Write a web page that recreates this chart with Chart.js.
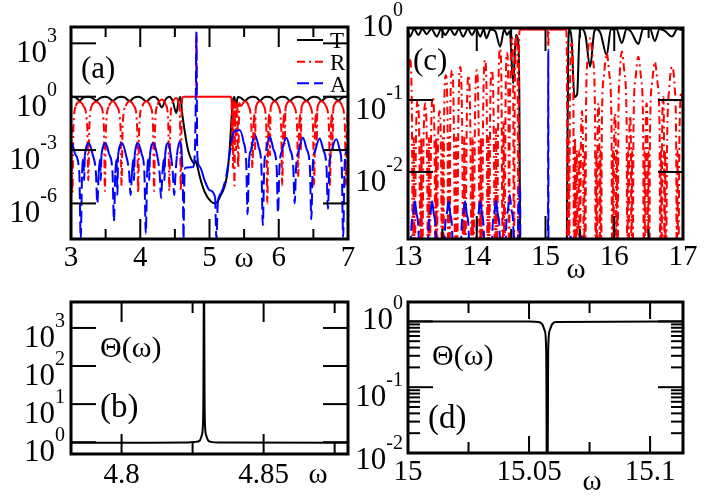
<!DOCTYPE html>
<html><head><meta charset="utf-8">
<script src="https://cdn.jsdelivr.net/npm/chart.js@4.4.0/dist/chart.umd.min.js"></script>
<style>
html,body{margin:0;padding:0;background:#fff;}
#wrap{position:relative;width:705px;height:500px;overflow:hidden;background:#fff;}
#wrap canvas{position:absolute;left:0;top:0;}
#fp{position:absolute;left:-2000px;top:0;font-family:"Liberation Serif";font-size:28px;}
</style></head><body>
<div id="fp">10 (a) (b) T R A &#920;(&#969;) 4.85</div>
<div id="wrap">
<canvas id="ca" width="705" height="500"></canvas>
<canvas id="cc" width="705" height="500"></canvas>
<canvas id="cb" width="705" height="500"></canvas>
<canvas id="cd" width="705" height="500"></canvas>
</div>
<script>
// ---------- panel (a): omega 3..7 ----------
const seriesNames = ['T', 'R', 'A'];
const aTX = [3.00,3.02,3.07,3.125,3.18, 3.25,3.30,3.365,3.43, 3.49,3.54,3.606,3.67, 3.73,3.78,3.847,3.91, 3.97,4.02,4.087,4.15, 4.20,4.25,4.31,4.37,
  4.42,4.47,4.52,4.555,4.58, 4.605,4.64,4.69,4.74,4.78, 4.80,4.82,4.86,4.93,5.02, 5.08,5.15,5.25,5.29,5.32, 5.34,
  5.36,5.38,5.41,5.45, 5.51,5.57,5.62,5.68, 5.73,5.78,5.83,5.89, 5.94,6.00,6.05,6.11, 6.16,6.22,6.28,6.34, 6.40,6.46,6.51,6.57, 6.62,6.68,6.74,6.80, 6.86,6.92,6.97,7.00];
const aT = [0.95,1.0,0.88,0.62,0.88, 1.0,0.88,0.62,0.88, 1.0,0.88,0.6,0.88, 1.0,0.88,0.58,0.88, 1.0,0.86,0.55,0.86, 1.0,0.75,0.25,0.75,
  1.0,0.55,0.12,0.6,0.95, 0.12,1.3e-2,1e-3,2.8e-4,1.8e-4, 2.5e-4,1.5e-4,3.2e-5,4.5e-6,1.3e-6, 1e-6,2.3e-6,3.2e-5,1e-3,7.4e-2, 0.65,
  0.95,0.3,0.95,0.88, 0.6,0.88,1.0,0.88, 0.6,0.88,1.0,0.88, 0.6,0.88,1.0,0.88, 0.6,0.88,1.0,0.88, 0.6,0.88,1.0,0.88, 0.6,0.88,1.0,0.88, 0.6,0.88,1.0,0.95];

const aRX = [3.00,3.02,3.035,3.07,3.125,3.18,3.235,
  3.25,3.265,3.30,3.365,3.43,3.475,
  3.49,3.505,3.55,3.606,3.66,3.715,
  3.73,3.745,3.79,3.847,3.91,3.955,
  3.97,3.985,4.03,4.087,4.145,4.185,
  4.20,4.215,4.25,4.31,4.37,4.405,
  4.42,4.435,4.47,4.52,4.555,4.575,
  4.585,4.60,4.615,4.63,4.80,4.808,4.812,4.816,5.31,
  5.32,5.325,5.332,5.34,5.35,5.36,5.372,5.385,5.40,5.415,5.43,5.45,
  5.51,5.565,5.605,5.62,5.635,5.65,5.658,5.666,5.675,
  5.73,5.785,5.82,5.835,5.85,5.865,5.873,5.881,5.89,
  5.94,5.995,6.035,6.05,6.065,6.08,6.088,6.096,6.105,
  6.16,6.22,6.265,6.28,6.295,6.31,6.318,6.326,6.335,
  6.40,6.455,6.495,6.51,6.525,6.54,6.548,6.556,6.565,
  6.62,6.68,6.725,6.74,6.755,6.77,6.778,6.786,6.795,
  6.86,6.915,6.955,6.97,6.985,7.00];
const aR = [0.2,4e-6,0.02,0.3,0.52,0.3,0.02,
  2e-5,0.02,0.3,0.52,0.3,0.02,
  5e-6,0.02,0.3,0.55,0.3,0.02,
  1e-5,0.02,0.3,0.55,0.3,0.02,
  4e-6,0.02,0.3,0.55,0.3,0.02,
  5e-6,0.03,0.35,0.7,0.35,0.03,
  5e-6,0.05,0.5,0.85,0.4,0.03,
  5e-6,0.4,0.95,1.0,1.0,1.0,3000,1.0,1.0,
  0.5,1e-3,0.7,1e-4,0.6,1e-5,0.6,1e-3,0.55,1e-4,0.45,0.3,
  0.55,0.3,0.02,1e-4,0.02,0.1,1e-3,0.15,0.3,
  0.55,0.3,0.02,1e-6,0.02,0.1,5e-4,0.15,0.3,
  0.55,0.3,0.02,1e-5,0.02,0.1,2e-3,0.15,0.3,
  0.55,0.3,0.02,3e-5,0.02,0.1,1e-3,0.15,0.3,
  0.55,0.3,0.02,1e-5,0.02,0.1,2e-3,0.15,0.3,
  0.55,0.3,0.02,1e-5,0.02,0.1,1e-3,0.15,0.3,
  0.55,0.3,0.02,1e-5,0.02,0.15];

const aAX = [3.00,3.01,3.06,3.12,3.14,3.16,3.18,3.19,3.20,
  3.26,3.31,3.36,3.38,3.40,3.42,3.43,3.44,
  3.50,3.55,3.60,3.62,3.64,3.66,3.67,3.68,
  3.74,3.79,3.84,3.86,3.88,3.90,3.91,3.92,
  3.97,4.02,4.06,4.08,4.10,4.12,4.13,4.14,
  4.19,4.24,4.28,4.30,4.32,4.34,4.35,4.36,
  4.40,4.44,4.47,4.49,4.51,4.53,
  4.57,4.60,4.615,4.625,4.635,4.645,4.76,4.79,4.805,4.81,4.815,4.825,
  4.86,4.93,5.00,5.08,5.10,5.12,5.17,5.25,5.29,5.34,5.38,
  5.44,5.49,5.53,5.55,5.57,5.60,
  5.655,5.71,5.75,5.77,5.79,5.82,
  5.87,5.92,5.97,5.99,6.01,6.05,
  6.11,6.16,6.21,6.23,6.25,6.29,
  6.35,6.40,6.45,6.47,6.49,6.53,
  6.59,6.64,6.69,6.71,6.73,6.77,
  6.83,6.88,6.91,6.93,6.95,6.98,7.00];
const aA = [2e-3,2.4e-3,6e-4,5e-5,1e-8,5e-5,3e-4,2e-5,5e-4,
  2.4e-3,6e-4,5e-5,1e-6,5e-5,3e-4,2e-5,5e-4,
  2.4e-3,6e-4,5e-5,1e-7,5e-5,3e-4,3e-6,5e-4,
  2.4e-3,6e-4,5e-5,3e-6,5e-5,3e-4,2e-5,5e-4,
  2.4e-3,6e-4,5e-5,2e-8,5e-5,3e-4,2e-5,5e-4,
  2.4e-3,6e-4,5e-5,2e-6,5e-5,3e-4,2e-5,5e-4,
  2.4e-3,6e-4,5e-5,3e-6,5e-5,5e-4,
  3e-3,5e-4,1e-5,1e-8,1e-5,1e-4,1.1e-4,1e-3,10,4500,10,4e-4,
  1.15e-4,2e-5,5.6e-6,2.3e-6,1e-8,1e-6,4e-6,5e-5,6e-4,8.7e-3,1.2e-2,
  1.3e-2,3e-3,2e-4,2.5e-7,2e-4,1e-3,
  7e-3,1.5e-3,1e-4,6e-8,1e-4,1e-3,
  5.6e-3,1.2e-3,1e-4,3e-7,1e-4,1e-3,
  5e-3,1.2e-3,1e-4,1e-6,1e-4,1e-3,
  5e-3,1.2e-3,1e-4,1.3e-7,1e-4,1e-3,
  4.5e-3,1.1e-3,1e-4,5e-7,1e-4,1e-3,
  4e-3,1e-3,1e-4,1.3e-8,1e-4,1e-3,2e-3];

const aXMajor = [3, 4, 5, 6, 7];
const aXLabels = ['3', '4', '5', '6', '7'];
const aXMinor = [3.5, 4.5, 5.5, 6.5];
const aYTicks = [1e3, 1, 1e-3, 1e-6];
const aYExp = ['3', '0', '-3', '-6'];

// ---------- panel (c): omega 13..17 ----------
const cTX = [13.00,13.03,13.09,13.15,13.21,13.27,13.34,13.42,13.48,13.54,13.61,13.68,13.74,13.80,13.87,13.93,13.99,14.05,14.10,14.14,14.20,14.27,14.34,14.40,14.44,14.48,14.53,14.57,14.60,14.62,14.63,14.64,
  15.30,15.31,15.33,15.35,15.38,15.42,15.46,15.50,15.53,15.58,15.65,15.71,15.74,15.80,15.89,15.95,16.03,16.11,16.18,16.24,16.35,16.42,16.52,16.59,16.66,16.73,16.84,16.92,17.00];
const cT = [0.92,0.76,0.97,0.8,0.97,0.82,0.97,0.76,0.97,0.8,0.97,0.8,0.97,0.76,0.97,0.8,0.97,0.76,0.95,0.72,0.95,0.9,0.55,0.95,0.8,0.9,0.17,0.8,0.7,0.1,1e-3,1e-5,
  1e-5,1e-3,0.5,0.95,0.7,0.11,0.12,0.97,0.97,0.8,0.29,0.9,0.97,0.85,0.42,0.95,0.97,0.62,0.97,0.9,0.6,0.97,0.97,0.66,0.97,0.92,0.76,0.97,0.93];

const cRX = [13.00,13.03,13.055,13.073,13.085,13.097,13.115,13.14,13.165,13.183,
  13.195,13.207,13.225,13.25,13.275,13.293,13.305,13.317,13.335,13.36,
  13.385,13.40,13.41,13.42,13.435,13.46,13.48,13.493,13.505,13.517,
  13.525,13.55,13.575,13.583,13.595,13.607,13.615,13.64,13.665,13.688,
  13.70,13.712,13.735,13.76,13.785,13.808,13.82,13.832,13.855,13.88,
  13.905,13.928,13.94,13.952,13.975,14.00,14.025,14.048,14.06,14.072,
  14.095,14.12,14.145,14.158,14.17,14.182,14.195,14.22,14.245,14.268,
  14.28,14.292,14.315,14.34,14.36,14.378,14.39,14.402,14.42,14.44,
  14.46,14.47,14.48,14.49,14.51,14.53,14.54,14.555,14.58,14.595,
  14.605,14.615,14.625,15.032,15.04,15.048,15.30,15.31,15.32,15.335,
  15.345,15.355,15.38,15.405,15.415,15.43,15.44,15.455,15.47,15.49,
  15.50,15.515,15.53,15.545,15.56,15.57,15.58,15.59,15.61,15.65,
  15.69,15.72,15.73,15.74,15.75,15.757,15.77,15.783,15.79,15.80,
  15.81,15.82,15.85,15.89,15.93,15.96,15.97,15.98,15.99,15.997,
  16.01,16.023,16.03,16.04,16.05,16.06,16.08,16.11,16.15,16.18,
  16.19,16.20,16.21,16.217,16.23,16.243,16.25,16.26,16.27,16.28,
  16.31,16.35,16.39,16.42,16.43,16.44,16.45,16.457,16.47,16.483,
  16.49,16.50,16.51,16.52,16.55,16.59,16.63,16.66,16.67,16.68,
  16.69,16.697,16.71,16.723,16.73,16.74,16.75,16.77,16.80,16.84,
  16.88,16.90,16.91,16.92,16.93,16.95,16.98,17.00];
const cR = [0.25,0.36,0.09,3e-4,0.03,3e-4,0.025,0.10,0.025,3e-4,
  0.03,3e-4,0.022,0.09,0.022,3e-4,0.03,3e-4,0.028,0.11,
  0.028,3e-4,0.03,3e-4,0.018,0.07,0.018,3e-4,0.03,3e-4,
  0.055,0.22,0.055,3e-4,0.03,3e-4,0.065,0.26,0.065,3e-4,
  0.03,3e-4,0.07,0.29,0.07,3e-4,0.03,3e-4,0.055,0.22,
  0.055,3e-4,0.03,3e-4,0.065,0.26,0.065,3e-4,0.03,3e-4,
  0.09,0.36,0.09,3e-4,0.03,3e-4,0.065,0.26,0.065,3e-4,
  0.04,3e-4,0.13,0.52,0.13,3e-4,0.05,3e-4,0.11,0.45,
  0.11,3e-4,0.05,0.19,0.75,0.19,3e-4,0.2,0.8,0.2,
  3e-4,0.5,0.95,0.95,0.55,0.95,0.95,0.5,3e-4,0.03,
  3e-4,0.1,0.62,0.15,3e-4,0.03,3e-4,0.02,3e-4,0.02,
  3e-4,0.023,0.07,0.023,3e-4,0.02,3e-4,0.07,0.36,0.72,
  0.36,0.07,3e-4,0.02,3e-4,0.03,0.09,0.03,3e-4,0.02,
  3e-4,0.045,0.22,0.45,0.22,0.045,3e-4,0.02,3e-4,0.022,
  0.065,0.022,3e-4,0.02,3e-4,0.047,0.23,0.47,0.23,0.047,
  3e-4,0.02,3e-4,0.02,0.06,0.02,3e-4,0.02,3e-4,0.04,
  0.2,0.4,0.2,0.04,3e-4,0.02,3e-4,0.03,0.09,0.03,
  3e-4,0.02,3e-4,0.034,0.17,0.34,0.17,0.034,3e-4,0.02,
  3e-4,0.037,0.11,0.037,3e-4,0.02,3e-4,0.03,0.145,0.29,
  0.145,0.03,3e-4,0.02,3e-4,0.04,0.13,0.06];

const cAX = [13.00,13.03,13.045,13.075,13.10,13.125,13.155,13.17,
  13.28,13.295,13.325,13.35,13.375,13.405,13.42,
  13.52,13.535,13.565,13.59,13.615,13.645,13.66,
  13.76,13.775,13.805,13.83,13.855,13.885,13.90,
  13.98,13.995,14.025,14.05,14.075,14.105,14.12,
  14.21,14.225,14.255,14.28,14.305,14.335,14.35,
  14.41,14.425,14.455,14.48,14.505,14.535,14.55,
  14.59,14.60,14.615,14.63,14.64,
  15.035,15.04,15.045,
  15.35,15.365,15.37,15.52,15.53,15.54,17.00];
const cA = [1e-4,1e-4,1.3e-3,2.6e-3,3.9e-3,2.6e-3,1.3e-3,1e-4,
  1e-4,1.3e-3,2.6e-3,3.9e-3,2.6e-3,1.3e-3,1e-4,
  1e-4,1.3e-3,2.6e-3,3.9e-3,2.6e-3,1.3e-3,1e-4,
  1e-4,1.3e-3,2.6e-3,3.9e-3,2.6e-3,1.3e-3,1e-4,
  1e-4,1.3e-3,2.6e-3,3.9e-3,2.6e-3,1.3e-3,1e-4,
  1e-4,1.3e-3,2.6e-3,4e-3,2.6e-3,1.3e-3,1e-4,
  1e-4,1.4e-3,3e-3,4.8e-3,3e-3,1.4e-3,1e-4,
  1e-4,1.5e-3,4e-3,6.6e-3,1e-4,
  1e-4,0.5,1e-4,
  1e-4,1.4e-3,1e-4,1e-4,1.3e-3,1e-4,1e-4];

const cXMajor = [13, 14, 15, 16, 17];
const cXLabels = ['13', '14', '15', '16', '17'];
const cXMinor = [13.5, 14.5, 15.5, 16.5];
const cYTicks = [1, 0.1, 0.01];
const cYExp = ['0', '-1', '-2'];

// ---------- panel (b): Theta near 4.83 ----------
const bX = [4.7822,4.81,4.8235,4.826,4.8275,4.8282,4.8286,4.8288,4.8290,4.8292,4.8294,4.8298,4.8305,4.8315,4.834,4.8797];
const bTheta = [0.97,0.97,0.98,1.02,1.1,1.5,2.5,17,1e5,17,2.5,1.5,1.1,1.02,0.98,0.97];
const bXMajor = [4.8, 4.85];
const bXLabels = ['4.8', '4.85'];
const bXMinor = [4.825, 4.875];
const bYTicks = [1e3, 1e2, 10, 1];
const bYExp = ['3', '2', '1', '0'];

// ---------- panel (d): Theta near 15.06 ----------
const dX = [15.0,15.05,15.054,15.0555,15.0565,15.0571,15.0575,15.0579,15.0585,15.0595,15.061,15.1136];
const dTheta = [1.0,1.0,0.98,0.9,0.72,0.35,1e-4,0.35,0.72,0.9,0.98,1.0];
const dXMajor = [15, 15.05, 15.1];
const dXLabels = ['15', '15.05', '15.1'];
const dXMinor = [15.025, 15.075];
const dYTicks = [1, 0.1, 0.01];
const dYExp = ['0', '-1', '-2'];
const dYMinor = [0.02,0.03,0.04,0.05,0.06,0.07,0.08,0.09,0.2,0.3,0.4,0.5,0.6,0.7,0.8,0.9];

// ---------- styles ----------
const SERIF = '"Liberation Serif"';
const COLORS = {T: '#000000', R: '#ff0000', A: '#0000ff'};
const DASHES = {T: [], R: [8, 4, 2, 4], A: [12, 5]};

function pts(xs, ys) { return xs.map((x, i) => ({x: x, y: ys[i]})); }
function ds(name, xs, ys) {
  const dash = DASHES[name];
  return {label: name, data: pts(xs, ys), borderColor: COLORS[name], borderWidth: 2,
    pointRadius: 0, fill: false, cubicInterpolationMode: 'monotone',
    segment: {
      // as in the original plot: the dash pattern only shows on long, steep segments
      borderDash: c => {
        if (!dash.length) return [];
        const dx = Math.abs(c.p1.x - c.p0.x), dy = Math.abs(c.p1.y - c.p0.y);
        return (dy > 14 && dy > 2 * dx) ? dash : [];
      }
    }};
}

function deco(cfg) {
  return {
    id: 'deco',
    afterDatasetsDraw(chart) {
      const ctx = chart.ctx, a = chart.chartArea, xs = chart.scales.x, ys = chart.scales.y;
      ctx.save();
      ctx.setLineDash([]);
      ctx.strokeStyle = '#000'; ctx.fillStyle = '#000'; ctx.lineWidth = 2; ctx.lineCap = 'butt';
      const seg = (x0, y0, x1, y1) => { ctx.beginPath(); ctx.moveTo(x0, y0); ctx.lineTo(x1, y1); ctx.stroke(); };
      cfg.xMajor.forEach(v => { const x = xs.getPixelForValue(v); seg(x, a.top, x, a.top + cfg.xMajorLen); seg(x, a.bottom, x, a.bottom - cfg.xMajorLen); });
      cfg.xMinor.forEach(v => { const x = xs.getPixelForValue(v); seg(x, a.top, x, a.top + cfg.xMinorLen); seg(x, a.bottom, x, a.bottom - cfg.xMinorLen); });
      cfg.yTicks.forEach(v => { const y = ys.getPixelForValue(v); seg(a.left, y, a.left + cfg.yMajorLen, y); seg(a.right, y, a.right - cfg.yMajorLen, y); });
      (cfg.yMinor || []).forEach(v => { const y = ys.getPixelForValue(v); seg(a.left, y, a.left + cfg.yMinorLen, y); seg(a.right, y, a.right - cfg.yMinorLen, y); });
      ctx.lineWidth = 3;
      ctx.strokeRect(a.left, a.top, a.right - a.left, a.bottom - a.top);
      // x tick labels
      ctx.textBaseline = 'alphabetic';
      ctx.textAlign = 'center';
      ctx.font = '29px ' + SERIF;
      cfg.xMajor.forEach((v, i) => { if (cfg.xLabels[i]) ctx.fillText(cfg.xLabels[i], xs.getPixelForValue(v), cfg.xLabelBase); });
      ctx.fillText('\u03c9', cfg.omega[0], cfg.omega[1]);
      // y tick labels 10^n
      ctx.textAlign = 'left';
      cfg.yTicks.forEach((v, i) => {
        const y = ys.getPixelForValue(v) + (cfg.yShift ? cfg.yShift[i] : 0);
        ctx.font = '20px ' + SERIF; const ew = ctx.measureText(cfg.yExp[i]).width;
        ctx.font = '31px ' + SERIF; const bw = ctx.measureText('10').width;
        ctx.fillText('10', cfg.yRight - ew - bw, y + 19);
        ctx.font = '20px ' + SERIF;
        ctx.fillText(cfg.yExp[i], cfg.yRight - ew, y - 1);
      });
      // panel texts
      cfg.texts.forEach(t => { ctx.font = t.size + 'px ' + SERIF; ctx.fillText(t.s, t.x, t.y); });
      // legend
      if (cfg.legend) {
        const L = cfg.legend;
        seriesNames.forEach((n, i) => {
          ctx.strokeStyle = COLORS[n]; ctx.lineWidth = 2; ctx.setLineDash(DASHES[n]);
          seg(L.x0, L.ys[i], L.x1, L.ys[i]);
          ctx.setLineDash([]);
          ctx.fillStyle = '#000'; ctx.font = L.size + 'px ' + SERIF;
          ctx.fillText(n, L.tx, L.base[i]);
        });
      }
      ctx.restore();
    }
  };
}

function makeChart(id, datasets, area, xr, yr, cfg) {
  return new Chart(document.getElementById(id), {
    type: 'line',
    data: {datasets: datasets},
    options: {
      responsive: false, animation: false, events: [],
      layout: {padding: {left: area[0], top: area[1], right: 705 - area[2], bottom: 500 - area[3]}},
      plugins: {legend: {display: false}, tooltip: {enabled: false}},
      scales: {
        x: {type: 'linear', min: xr[0], max: xr[1], display: false},
        y: {type: 'logarithmic', min: yr[0], max: yr[1], display: false}
      }
    },
    plugins: [deco(cfg)]
  });
}

const charts = [];
charts.push(makeChart('ca', [ds('A', aAX, aA), ds('R', aRX, aR), ds('T', aTX, aT)],
  [71, 27, 348, 239], [3, 7], [1e-8, 8300], {
    xMajor: aXMajor, xLabels: aXLabels, xMinor: aXMinor, xMajorLen: 20, xMinorLen: 10,
    yTicks: aYTicks, yExp: aYExp, yMajorLen: 25, yMinorLen: 12, yRight: 57,
    xLabelBase: 266, omega: [244, 267],
    texts: [{s: '(a)', x: 81, y: 78, size: 31}],
    legend: {x0: 297, x1: 323, ys: [40, 61.7, 83.3], tx: 330, base: [48, 70, 92], size: 23}
  }));

charts.push(makeChart('cc', [ds('A', cAX, cA), ds('R', cRX, cR), ds('T', cTX, cT)],
  [408, 28, 683, 239], [13, 17], [1.17e-3, 1], {
    xMajor: cXMajor, xLabels: cXLabels, xMinor: cXMinor, xMajorLen: 23, xMinorLen: 10,
    yTicks: cYTicks, yExp: cYExp, yShift: [-11, 0, 0], yMajorLen: 25, yMinorLen: 12, yRight: 403,
    xLabelBase: 265, omega: [576, 278],
    texts: [{s: '(c)', x: 413, y: 70, size: 31}]
  }));

charts.push(makeChart('cb', [ds('T', bX, bTheta)],
  [71, 302, 348, 454], [4.7822, 4.8797], [0.49, 4800], {
    xMajor: bXMajor, xLabels: bXLabels, xMinor: bXMinor, xMajorLen: 20, xMinorLen: 11,
    yTicks: bYTicks, yExp: bYExp, yMajorLen: 25, yMinorLen: 12, yRight: 65,
    xLabelBase: 483, omega: [318, 483],
    texts: [{s: '\u0398(\u03c9)', x: 100, y: 357, size: 30}, {s: '(b)', x: 100, y: 417, size: 33}]
  }));

charts.push(makeChart('cd', [ds('T', dX, dTheta)],
  [408, 302, 683, 453], [15, 15.1136], [0.01, 1.97], {
    xMajor: dXMajor, xLabels: dXLabels, xMinor: dXMinor, xMajorLen: 17, xMinorLen: 11,
    yTicks: dYTicks, yExp: dYExp, yShift: [-11, 0, -3], yMinor: dYMinor, yMajorLen: 25, yMinorLen: 12, yRight: 403,
    xLabelBase: 480, omega: [592, 490],
    texts: [{s: '\u0398(\u03c9)', x: 432, y: 365, size: 30}, {s: '(d)', x: 428, y: 428, size: 33}]
  }));

const redraw = () => charts.forEach(c => c.draw());
if (document.fonts && document.fonts.load) {
  document.fonts.load('28px "Liberation Serif"').then(redraw);
  document.fonts.ready.then(redraw);
}
window.addEventListener('load', redraw);
setTimeout(redraw, 200);
</script>
</body></html>
